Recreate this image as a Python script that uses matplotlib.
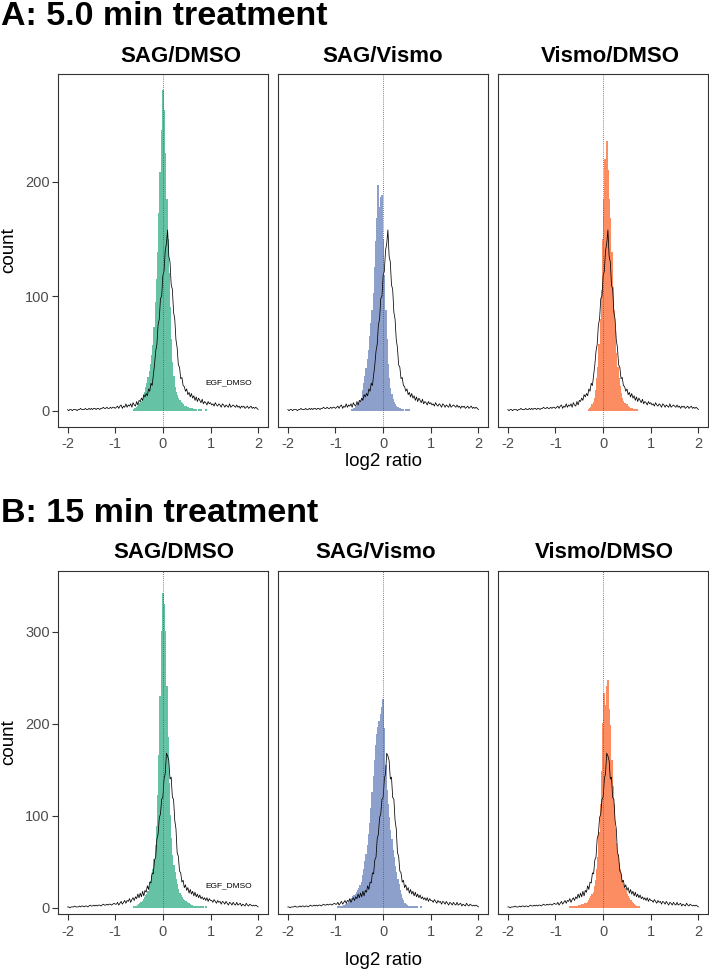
import numpy as np
import matplotlib
matplotlib.use("Agg")
import matplotlib.pyplot as plt

plt.rcParams['font.family'] = ['Liberation Sans', 'DejaVu Sans']
plt.rcParams['axes.unicode_minus'] = False

W, H = 709, 971
bin_w = 0.025

panel_titles = ["SAG/DMSO", "SAG/Vismo", "Vismo/DMSO"]
fill_colors = ["#66C2A5", "#8DA0CB", "#FC8D62"]
x_ticks = [-2, -1, 0, 1, 2]

# ---- A: 5.0 min, filled histograms (counts every 0.025 from a start value)
a_sag_dmso_start = -0.6
a_sag_dmso = [1, 2, 3, 4, 5, 6, 8, 10, 13, 16,
              20, 24, 29, 34, 40, 48, 57, 73, 95, 115,
              138, 172, 208, 245, 280, 262, 225, 185, 150, 120,
              90, 62, 42, 30, 20, 16, 13, 11, 9, 7,
              6, 5, 4, 4, 3, 3, 2, 2, 2, 1,
              1, 1, 1, 0, 1, 0, 1, 0, 0, 0, 1]
a_sag_vismo_start = -0.65
a_sag_vismo = [1, 1, 2, 3, 4, 5, 6, 8, 11, 18,
               24, 30, 37, 45, 53, 65, 76, 88, 102, 125,
               148, 168, 197, 178, 186, 188, 150, 118, 88, 62,
               40, 28, 19, 14, 10, 7, 5, 4, 3, 2,
               2, 1, 1, 1, 0, 1, 0, 1, 1]
a_vismo_dmso_start = -0.3
a_vismo_dmso = [1, 2, 3, 5, 7, 11, 18, 28, 38, 58,
                80, 105, 150, 185, 220, 235, 210, 185, 168, 138,
                108, 88, 70, 50, 38, 28, 21, 15, 11, 8,
                6, 5, 5, 4, 3, 2, 2, 1, 1, 1, 1]

# EGF_DMSO reference line, counts every 0.025 from -2 to 2
a_egf_dmso = [1, 0, 1, 1, 0, 1, 1, 1, 0, 1, 1, 2, 1, 1, 1, 2, 1, 1, 2, 1,
              2, 1, 2, 2, 1, 2, 2, 1, 2, 2, 3, 2, 2, 3, 2, 2, 3, 2, 3, 3, 2,
              3, 4, 2, 4, 5, 2, 4, 3, 6, 3, 5, 4, 6, 3, 7, 5, 4, 8, 5, 9,
              8, 11, 9, 14, 12, 15, 13, 19, 17, 24, 22, 31, 40, 52, 58, 75, 80, 98, 100, 118,
              122, 140, 146, 158, 135, 130, 110, 106, 86, 80, 62, 55, 40, 38, 28, 29, 22, 21, 17, 19,
              14, 16, 12, 15, 11, 13, 9, 12, 8, 11, 9, 7, 10, 6, 8, 7, 5, 8, 6, 7,
              5, 6, 4, 7, 5, 4, 6, 5, 3, 6, 5, 3, 5, 4, 3, 6, 3, 4, 5, 4,
              3, 5, 3, 4, 2, 4, 3, 4, 2, 3, 4, 2, 3, 4, 2, 3, 2, 3, 2, 1]

# ---- B: 15 min
b_sag_dmso_start = -0.6
b_sag_dmso = [1, 1, 2, 3, 4, 5, 6, 7, 9, 11,
              13, 15, 18, 23, 29, 35, 42, 52, 68, 88,
              122, 165, 230, 300, 342, 330, 300, 240, 185, 135,
              100, 75, 57, 46, 38, 31, 25, 20, 16, 13,
              11, 9, 8, 7, 6, 5, 5, 4, 3, 2,
              2, 1, 1, 1, 1, 0, 1, 0, 1, 0, 1]
b_sag_vismo_start = -0.95
b_sag_vismo = [1, 1, 1, 2, 2, 3, 3, 4, 5, 6,
               8, 9, 10, 12, 13, 15, 17, 19, 21, 24,
               28, 35, 42, 50, 58, 68, 80, 92, 108, 125,
               143, 160, 176, 188, 196, 203, 210, 218, 226, 195,
               155, 128, 112, 98, 84, 74, 62, 55, 45, 38,
               31, 25, 19, 14, 10, 8, 5, 4, 3, 2,
               1, 1, 1, 0, 1, 0, 1, 0, 0, 0, 1]
b_vismo_dmso_start = -0.7
b_vismo_dmso = [1, 1, 1, 1, 2, 2, 2, 2, 3, 3,
                4, 4, 4, 5, 5, 6, 8, 10, 12, 14,
                17, 23, 30, 42, 55, 82, 112, 148, 200, 233,
                220, 240, 247, 215, 198, 160, 132, 112, 86, 70,
                58, 48, 42, 36, 30, 25, 21, 18, 15, 12,
                10, 8, 6, 5, 4, 3, 2, 1, 1]

b_egf_dmso = [1, 1, 0, 1, 1, 1, 2, 1, 1, 1, 2, 1, 2, 2, 1, 2, 2, 1, 2, 3,
              2, 2, 3, 2, 3, 2, 3, 3, 2, 3, 4, 3, 3, 4, 3, 4, 4, 3, 4, 5, 4,
              4, 6, 3, 5, 7, 4, 6, 8, 5, 8, 7, 10, 6, 9, 11, 8, 12, 10, 15, 11,
              16, 12, 18, 13, 19, 17, 24, 20, 28, 27, 38, 37, 52, 55, 75, 80, 98, 102, 118, 120,
              140, 146, 168, 165, 160, 140, 142, 120, 118, 95, 86, 60, 56, 40, 38, 28, 30, 22, 25, 19,
              22, 16, 20, 15, 18, 13, 17, 12, 15, 11, 14, 10, 12, 9, 11, 8, 11, 7, 10, 8,
              8, 6, 9, 7, 5, 8, 6, 7, 4, 7, 6, 4, 7, 5, 3, 6, 5, 3, 6, 4,
              3, 6, 3, 4, 5, 2, 4, 3, 2, 5, 3, 2, 4, 3, 2, 3, 2, 3, 2, 1]

rows = [
    dict(title="A: 5.0 min treatment", title_y=25, strip_y=62.5, top=74, bottom=426.7,
         ylim=(-14, 294.3), yticks=[0, 100, 200], label_y=462,
         fills=[(a_sag_dmso_start, a_sag_dmso), (a_sag_vismo_start, a_sag_vismo),
                (a_vismo_dmso_start, a_vismo_dmso)],
         egf=a_egf_dmso, strip_x=[181, 383, 610]),
    dict(title="B: 15 min treatment", title_y=522, strip_y=558.5, top=570.7, bottom=914.3,
         ylim=(-7, 366.3), yticks=[0, 100, 200, 300], label_y=960,
         fills=[(b_sag_dmso_start, b_sag_dmso), (b_sag_vismo_start, b_sag_vismo),
                (b_vismo_dmso_start, b_vismo_dmso)],
         egf=b_egf_dmso, strip_x=[174, 376, 604]),
]

panel_left = [58, 278.3, 498.3]
panel_w = 209.7
egf_x = np.round(np.arange(-2, 2 + bin_w / 2, bin_w), 4)

fig = plt.figure(figsize=(W / 100, H / 100), dpi=100)

for row in rows:
    fig.text(1 / W, 1 - row["title_y"] / H, row["title"], fontsize=24.5,
             fontweight='bold', va='baseline', ha='left')
    for i in range(3):
        ax = fig.add_axes([panel_left[i] / W, 1 - row["bottom"] / H,
                           panel_w / W, (row["bottom"] - row["top"]) / H])
        start, vals = row["fills"][i]
        edges = start - bin_w / 2 + bin_w * np.arange(len(vals) + 1)
        sp = ax.stairs(vals, edges, fill=True, facecolor=fill_colors[i],
                       edgecolor='none', linewidth=0)
        sp.set_snap(False)
        sp.set_antialiased(False)
        ax.plot(egf_x, row["egf"], color='black', lw=0.55)
        ax.axvline(0, color='#555555', lw=0.6, ls=(0, (1, 1.5)))
        ax.set_xlim(-2.2, 2.2)
        ax.set_ylim(*row["ylim"])
        ax.set_xticks(x_ticks)
        ax.set_xticklabels([str(t) for t in x_ticks])
        for s in ax.spines.values():
            s.set_color('#333333')
            s.set_linewidth(0.8)
        ax.tick_params(axis='x', length=4.5, width=0.8, color='#333333',
                       labelcolor='#4D4D4D', labelsize=10.5, pad=3)
        if i == 0:
            ax.set_yticks(row["yticks"])
            ax.tick_params(axis='y', length=4.5, width=0.8, color='#333333',
                           labelcolor='#4D4D4D', labelsize=10.5, pad=1.5)
            ax.text(1.38, 24, "EGF_DMSO", fontsize=6, ha='center', va='center')
        else:
            ax.set_yticks([])
        fig.text(row["strip_x"][i] / W, 1 - row["strip_y"] / H, panel_titles[i],
                 fontsize=16, fontweight='bold', ha='center', va='baseline')
    fig.text(9 / W, 1 - (row["top"] + row["bottom"]) / 2 / H, "count", fontsize=13.5,
             rotation=90, ha='center', va='center')
    fig.text(383.5 / W, 1 - row["label_y"] / H, "log2 ratio", fontsize=13.5,
             ha='center', va='center')

fig.savefig("out.png", dpi=100)
